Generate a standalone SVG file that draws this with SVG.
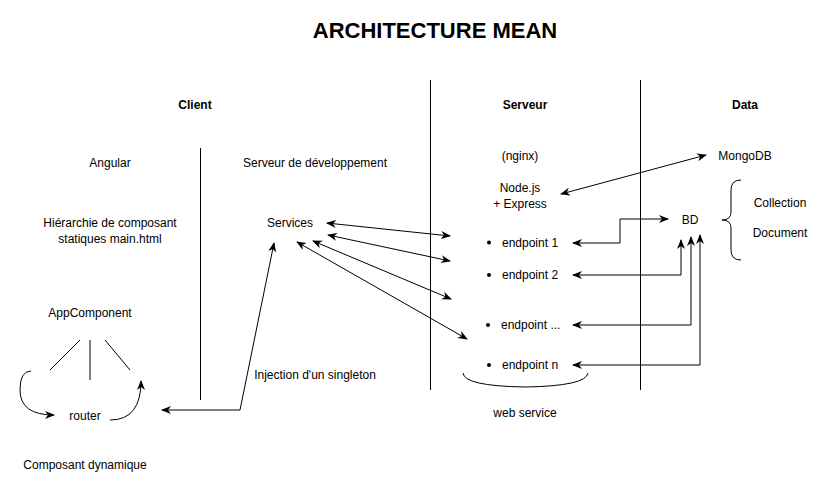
<svg xmlns="http://www.w3.org/2000/svg" width="830" height="490" viewBox="0 0 830 490">
<defs>
<marker id="ah" viewBox="0 0 10 10" refX="9" refY="5" markerWidth="10" markerHeight="10" markerUnits="userSpaceOnUse" orient="auto-start-reverse">
<path d="M0,1 L10,5 L0,9 L3,5 Z" fill="#000"/>
</marker>
<style>
text{font-family:"Liberation Sans",Arial,Helvetica,sans-serif;font-size:12px;fill:#000;text-anchor:middle}
.b{font-weight:bold}
.l{text-anchor:start}
.ln{stroke:#000;stroke-width:1;fill:none}
.a{stroke:#000;stroke-width:1;fill:none;marker-end:url(#ah)}
.d{stroke:#000;stroke-width:1;fill:none;marker-end:url(#ah);marker-start:url(#ah)}
</style>
</defs>
<rect width="830" height="490" fill="#fff"/>
<text x="435" y="38" class="b" style="font-size:22px">ARCHITECTURE MEAN</text>
<g id="separators">
<line class="ln" x1="430.5" y1="80" x2="430.5" y2="390"/>
<line class="ln" x1="640.5" y1="80" x2="640.5" y2="390"/>
<line class="ln" x1="200.5" y1="148" x2="200.5" y2="400"/>
</g>
<g id="headers">
<text x="195" y="109" class="b">Client</text>
<text x="525" y="109" class="b">Serveur</text>
<text x="745" y="109" class="b">Data</text>
</g>
<g id="angular"><text x="110" y="167">Angular</text></g>
<g id="devserver"><text x="315" y="167">Serveur de développement</text></g>
<g id="nginx"><text x="520" y="160">(nginx)</text></g>
<g id="node"><text x="520" y="192">Node.js</text><text x="520" y="208">+ Express</text></g>
<g id="mongodb"><text x="745" y="160">MongoDB</text></g>
<g id="hierarchie"><text x="110" y="227">Hiérarchie de composant</text><text x="110" y="243">statiques main.html</text></g>
<g id="services"><text x="290" y="227">Services</text></g>
<g id="bd"><text x="690" y="224">BD</text></g>
<g id="collection"><text x="780" y="207">Collection</text><text x="780" y="237">Document</text></g>
<g id="brace-data"><path class="ln" d="M741,180 Q731,180 731,190 L731,212 Q731,220 722,220 Q731,220 731,228 L731,250 Q731,260 741,260"/></g>
<g id="endpoint1"><circle cx="489" cy="242.5" r="2"/><text x="502" y="247" class="l">endpoint 1</text></g>
<g id="endpoint2"><circle cx="489" cy="275" r="2"/><text x="502" y="279" class="l">endpoint 2</text></g>
<g id="endpoint3"><circle cx="488" cy="325" r="2"/><text x="501" y="329" class="l">endpoint ...</text></g>
<g id="endpointn"><circle cx="489" cy="365" r="2"/><text x="502" y="369" class="l">endpoint n</text></g>
<g id="webservice"><path class="ln" d="M463,373 Q464,386 525,387 Q586,386 588,373"/><text x="525" y="417">web service</text></g>
<g id="appcomponent"><text x="90" y="317">AppComponent</text></g>
<g id="router"><text x="85" y="420">router</text></g>
<g id="dynamique"><text x="85" y="469">Composant dynamique</text></g>
<g id="injection"><text x="315" y="379">Injection d'un singleton</text></g>
<g id="connectors">
<line class="d" x1="561" y1="194" x2="706" y2="155"/>
<path class="d" d="M573,243 L620,243 L620,219 L668,219"/>
<path class="d" d="M573,275 L681,275 L681,240"/>
<path class="d" d="M573,325 L691,325 L691,237"/>
<path class="d" d="M573,365 L700,365 L700,235"/>
<line class="d" x1="327" y1="223" x2="450" y2="236"/>
<line class="d" x1="328" y1="235" x2="450" y2="261"/>
<line class="d" x1="313" y1="241" x2="451" y2="299"/>
<line class="d" x1="297" y1="242" x2="467" y2="339"/>
<path class="d" d="M162,410 L240,410 L274,243"/>
<line class="ln" x1="80" y1="340" x2="50" y2="370"/>
<line class="ln" x1="90" y1="340" x2="90" y2="380"/>
<line class="ln" x1="105" y1="340" x2="130" y2="370"/>
<path class="a" d="M31,371 Q20,371 20,390 Q20,415 54,415"/>
<path class="a" d="M110,420 Q141,420 141,381"/>
</g>
</svg>
